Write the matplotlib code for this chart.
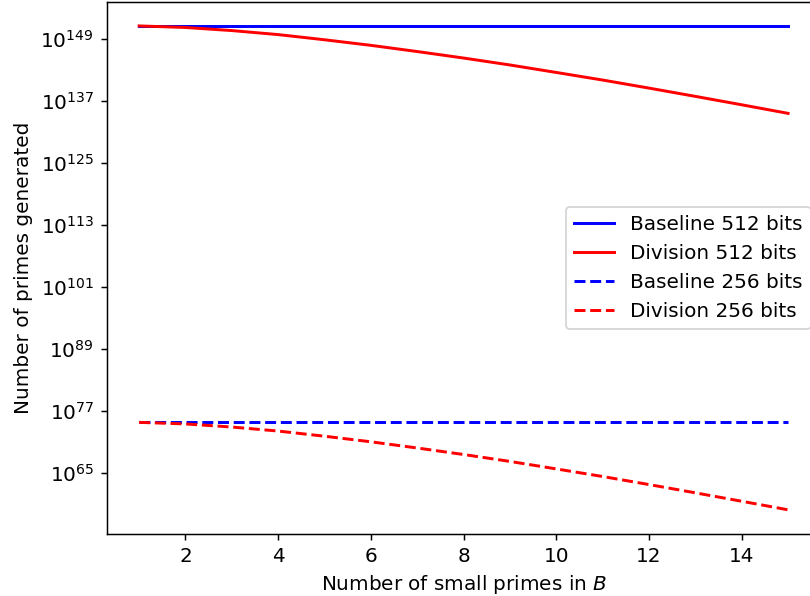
import numpy as np
import matplotlib
matplotlib.use('Agg')
import matplotlib.pyplot as plt
from matplotlib.ticker import NullLocator

plt.rcParams['font.size'] = 10.8
plt.rcParams['lines.linewidth'] = 1.6

# number of small primes in B
smallPrimes = list(range(1, 16))

# log10 of the number of primes generated
baseline512 = [151.58] * 15
division512 = [151.58, 151.28, 150.68, 149.90, 148.90, 147.82, 146.62, 145.36,
               144.02, 142.57, 141.10, 139.54, 137.94, 136.31, 134.65]
baseline256 = [74.82] * 15
division256 = [74.82, 74.52, 73.92, 73.14, 72.14, 71.06, 69.86, 68.60,
               67.26, 65.81, 64.34, 62.78, 61.18, 59.55, 57.89]

yTickExps = [65, 77, 89, 101, 113, 125, 137, 149]

fig = plt.figure(figsize=(810 / (400 / 3), 596 / (400 / 3)), dpi=400 / 3)
ax = fig.add_axes([0.1317, 0.1040, 0.8813, 0.8931])

ax.plot(smallPrimes, 10.0 ** np.array(baseline512), color='blue', label='Baseline 512 bits')
ax.plot(smallPrimes, 10.0 ** np.array(division512), color='red', label='Division 512 bits')
ax.plot(smallPrimes, 10.0 ** np.array(baseline256), color='blue', linestyle='--', label='Baseline 256 bits')
ax.plot(smallPrimes, 10.0 ** np.array(division256), color='red', linestyle='--', label='Division 256 bits')

ax.set_yscale('log')
ax.set_yticks([10.0 ** e for e in yTickExps])
ax.yaxis.set_minor_locator(NullLocator())
ax.set_xticks([2, 4, 6, 8, 10, 12, 14])

ax.set_xlabel('Number of small primes in $B$')
ax.set_ylabel('Number of primes generated')
ax.legend(loc='center right')

fig.savefig('out.png', dpi=400 / 3)
